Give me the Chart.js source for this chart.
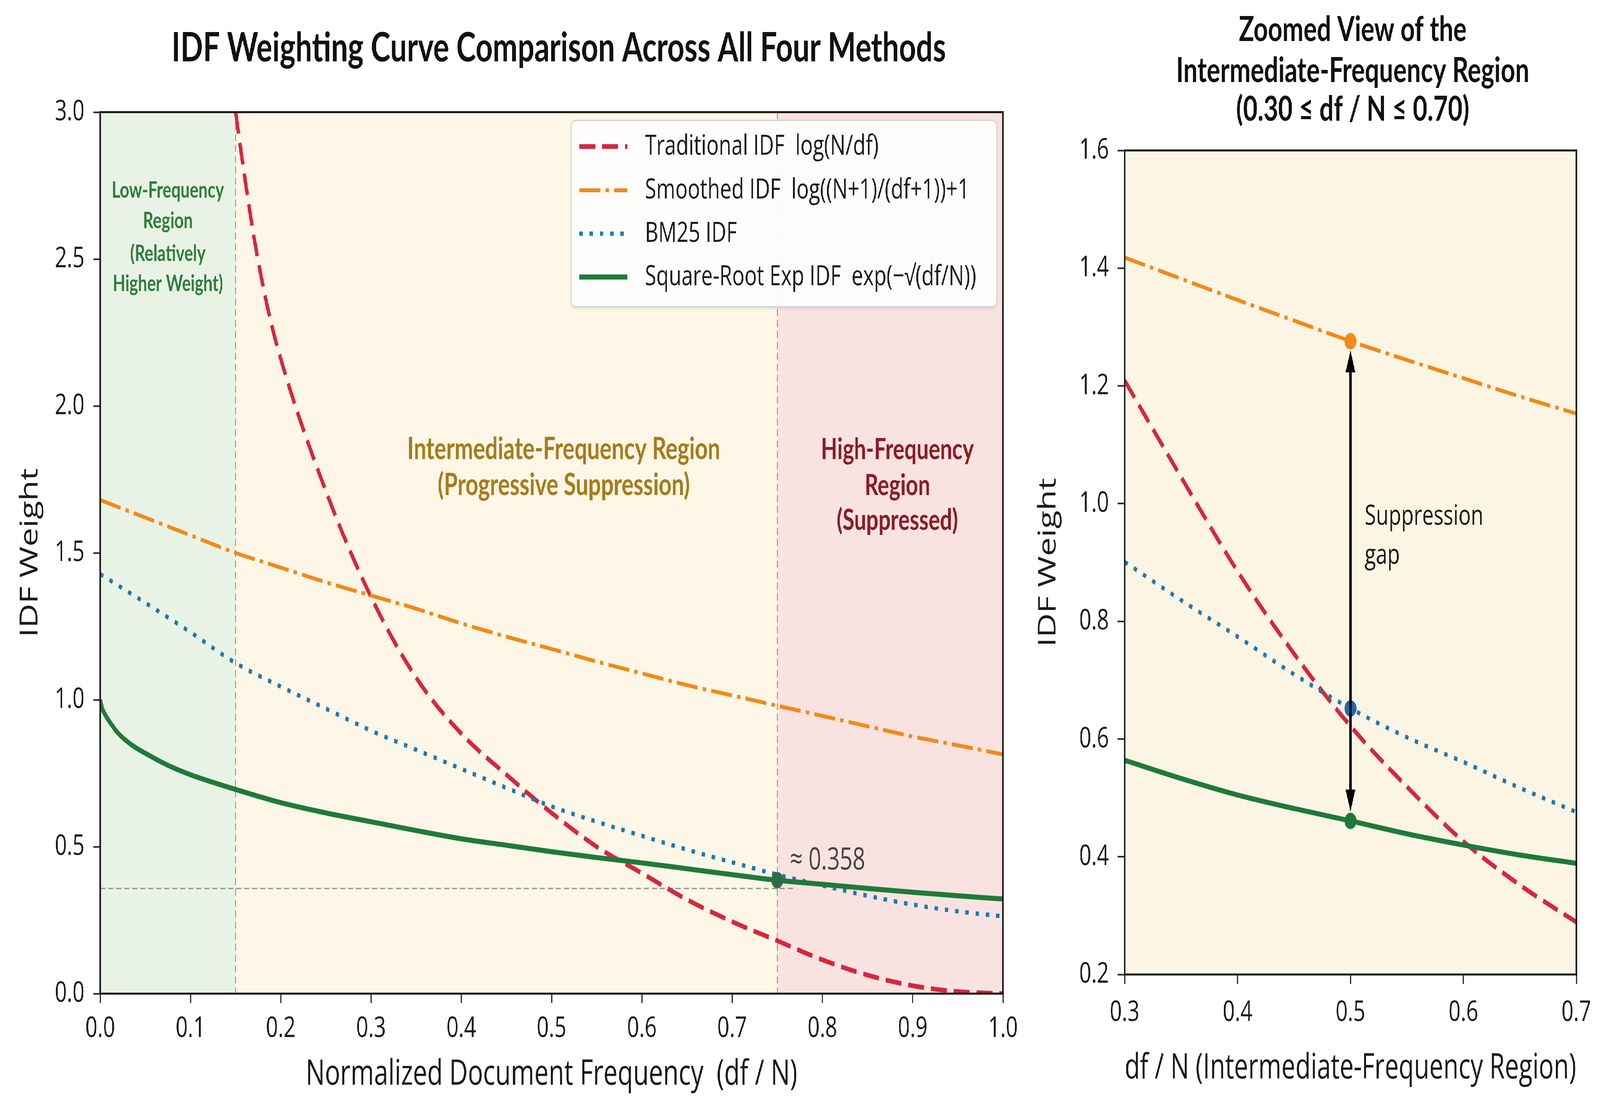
<!DOCTYPE html>
<html>
<head>
<meta charset="utf-8">
<title>IDF Weighting Curve Comparison</title>
<script src="https://cdn.jsdelivr.net/npm/chart.js@4.4.1/dist/chart.umd.min.js"></script>
<style>
  html, body { margin: 0; padding: 0; background: #ffffff; overflow: hidden; }
  /* la figura original esta comprimida en horizontal: se dibuja ancha y se encoge */
  #lienzo { position: absolute; left: 0; top: 0; width: 5604px; height: 2828px; transform: scale(0.75, 1); transform-origin: 0 0; }
  canvas { position: absolute; top: 0; }
</style>
</head>
<body>
<div id="lienzo">
  <canvas id="graficoPrincipal" width="3900" height="2828" style="left:0;width:3900px;height:2828px"></canvas>
  <canvas id="graficoZoom" width="2044" height="2828" style="left:3560px;width:2044px;height:2828px"></canvas>
</div>
<script>
// ----- Datos del grafico principal (df / N de 0 a 1) -----
const xPrincipal = [0, 0.05, 0.1, 0.15, 0.2, 0.25, 0.3, 0.35, 0.4, 0.45, 0.5, 0.55, 0.6, 0.65, 0.7, 0.75, 0.8, 0.85, 0.9, 0.95, 1.0];
const xTradicional = [0.15, 0.16, 0.17, 0.185, 0.2, 0.25, 0.3, 0.35, 0.4, 0.45, 0.5, 0.55, 0.6, 0.65, 0.7, 0.75, 0.8, 0.85, 0.9, 0.95, 1.0];
const xRaiz = [0, 0.002, 0.005, 0.01, 0.02, 0.035, 0.05, 0.075, 0.1, 0.15, 0.2, 0.25, 0.3, 0.35, 0.4, 0.45, 0.5, 0.55, 0.6, 0.65, 0.7, 0.75, 0.8, 0.85, 0.9, 0.95, 1.0];

const tradicionalPrincipal = [3.0, 2.78, 2.58, 2.34, 2.16, 1.71, 1.35, 1.075, 0.885, 0.745, 0.615, 0.50, 0.41, 0.32, 0.245, 0.18, 0.115, 0.063, 0.027, 0.007, 0.0];
const suavizadoPrincipal = [1.68, 1.62, 1.56, 1.50, 1.45, 1.40, 1.355, 1.31, 1.26, 1.215, 1.173, 1.13, 1.09, 1.05, 1.015, 0.98, 0.945, 0.91, 0.875, 0.845, 0.814];
const bm25Principal = [1.428, 1.33, 1.23, 1.125, 1.045, 0.97, 0.895, 0.83, 0.765, 0.70, 0.637, 0.585, 0.537, 0.49, 0.447, 0.405, 0.368, 0.333, 0.303, 0.28, 0.263];
const raizPrincipal = [1.0, 0.972, 0.952, 0.927, 0.886, 0.846, 0.818, 0.777, 0.745, 0.695, 0.65, 0.615, 0.585, 0.555, 0.527, 0.505, 0.483, 0.463, 0.445, 0.425, 0.405, 0.386, 0.372, 0.358, 0.345, 0.333, 0.322];

const limitesRegiones = [0, 0.15, 0.75, 1.0];
const puntoUmbral = 0.75;      // df / N del punto marcado
const valorUmbral = 0.358;     // linea horizontal "≈ 0.358"

const ticksXPrincipal = [0, 0.1, 0.2, 0.3, 0.4, 0.5, 0.6, 0.7, 0.8, 0.9, 1.0];
const ticksYPrincipal = [0, 0.5, 1.0, 1.5, 2.0, 2.5, 3.0];

// ----- Datos de la vista ampliada (0.30 a 0.70) -----
const xZoom = [0.3, 0.35, 0.4, 0.45, 0.5, 0.55, 0.6, 0.65, 0.7];
const tradicionalZoom = [1.209, 1.045, 0.885, 0.745, 0.622, 0.519, 0.426, 0.352, 0.289];
const suavizadoZoom = [1.418, 1.382, 1.346, 1.311, 1.276, 1.244, 1.213, 1.182, 1.153];
const bm25Zoom = [0.901, 0.836, 0.774, 0.71, 0.652, 0.603, 0.561, 0.517, 0.476];
const raizZoom = [0.564, 0.533, 0.505, 0.482, 0.461, 0.439, 0.420, 0.403, 0.389];
const puntoBrecha = 0.5;

const ticksXZoom = [0.3, 0.4, 0.5, 0.6, 0.7];
const ticksYZoom = [0.2, 0.4, 0.6, 0.8, 1.0, 1.2, 1.4, 1.6];

const etiquetasSeries = [
  "Traditional IDF  log(N/df)",
  "Smoothed IDF  log((N+1)/(df+1))+1",
  "BM25 IDF",
  "Square-Root Exp IDF  exp(\u2212\u221A(df/N))"
];

// ----- Estilos -----
const ROJO = "#d7263d";
const NARANJA = "#f28a17";
const AZUL = "#1f77b4";
const VERDE = "#1f7a3a";
const TINTA = "#1a1a1a";
const FUENTE = "'Open Sans', 'DejaVu Sans', sans-serif";
const FUENTE_TITULO = "Lato, 'Open Sans', sans-serif";

Chart.defaults.font.family = FUENTE;
Chart.defaults.color = TINTA;

// Ajusta el lienzo logico (5604 x 2828) a la ventana real
function ajustarLienzo() {
  const ancho = window.innerWidth || 4203;
  const alto = window.innerHeight || 2828;
  document.getElementById("lienzo").style.transform = "scale(" + (ancho / 5604) + "," + (alto / 2828) + ")";
}

document.addEventListener("DOMContentLoaded", function (event) {
  ajustarLienzo();
  Promise.all([
    document.fonts.load("700 80px Lato"),
    document.fonts.load("72px 'Open Sans'")
  ]).catch(function () {}).then(function () {
    dibujarGraficoPrincipal();
    dibujarGraficoZoom();
  });
});
window.addEventListener("resize", ajustarLienzo);

function puntos(xs, ys) {
  return xs.map(function (x, i) { return { x: x, y: ys[i] }; });
}

function serie(indice, xs, ys, orden) {
  const estilos = [
    { color: ROJO, ancho: 12, guion: [56, 24] },
    { color: NARANJA, ancho: 10, guion: [74, 18, 12, 18] },
    { color: AZUL, ancho: 11, guion: [12, 24] },
    { color: VERDE, ancho: 13, guion: [] }
  ];
  const e = estilos[indice];
  return {
    label: etiquetasSeries[indice],
    data: puntos(xs, ys),
    borderColor: e.color,
    borderWidth: e.ancho,
    borderDash: e.guion,
    borderCapStyle: "butt",
    pointRadius: 0,
    fill: false,
    cubicInterpolationMode: "monotone",
    order: orden
  };
}

function marcador(x, y, color) {
  return {
    label: "marcador",
    esMarcador: true,
    data: [{ x: x, y: y }],
    showLine: false,
    pointRadius: 21,
    pointBackgroundColor: color,
    pointBorderColor: color,
    pointBorderWidth: 0,
    order: 0
  };
}

function escalas(ticksX, ticksY, minX, maxX, minY, maxY, tituloX, altoX, anchoY, padTitX, padTitY, padTickX) {
  return {
    x: {
      type: "linear", position: "bottom", min: minX, max: maxX,
      afterBuildTicks: function (eje) { eje.ticks = ticksX.map(function (v) { return { value: v }; }); },
      afterFit: function (eje) { eje.height = altoX; },
      ticks: {
        font: { size: 74 }, color: TINTA, padding: padTickX, maxRotation: 0, autoSkip: false,
        callback: function (v) { return Number(v).toFixed(1); }
      },
      grid: { drawOnChartArea: false, drawTicks: true, tickLength: 24, tickWidth: 4, tickColor: "#222" },
      border: { display: false },
      title: { display: true, text: tituloX, font: { size: 89 }, color: TINTA, padding: { top: 0, bottom: padTitX } }
    },
    y: {
      type: "linear", min: minY, max: maxY,
      afterBuildTicks: function (eje) { eje.ticks = ticksY.map(function (v) { return { value: v }; }); },
      afterFit: function (eje) { eje.width = anchoY; },
      ticks: {
        font: { size: 74 }, color: TINTA, padding: 31, autoSkip: false,
        callback: function (v) { return Number(v).toFixed(1); }
      },
      grid: { drawOnChartArea: false, drawTicks: true, tickLength: 24, tickWidth: 4, tickColor: "#222" },
      border: { display: false },
      title: { display: true, text: "IDF Weight", font: { size: 86 }, color: TINTA, padding: { top: padTitY, bottom: 0 } }
    }
  };
}

function marco(chart) {
  const a = chart.chartArea;
  const ctx = chart.ctx;
  ctx.save();
  ctx.strokeStyle = "#111111";
  ctx.lineWidth = 5;
  ctx.strokeRect(a.left, a.top, a.right - a.left, a.bottom - a.top);
  ctx.restore();
}

function lineaDiscontinua(ctx, x0, y0, x1, y1) {
  ctx.save();
  ctx.strokeStyle = "#8a8a8a";
  ctx.lineWidth = 3;
  ctx.setLineDash([18, 10]);
  ctx.beginPath();
  ctx.moveTo(x0, y0);
  ctx.lineTo(x1, y1);
  ctx.stroke();
  ctx.restore();
}

function dibujarLeyenda(chart) {
  const ctx = chart.ctx;
  const series = chart.data.datasets.filter(function (d) { return !d.esMarcador; });
  const filas = [375, 487, 598, 709];
  ctx.save();
  ctx.shadowColor = "rgba(0,0,0,0.12)";
  ctx.shadowBlur = 10;
  ctx.shadowOffsetY = 4;
  ctx.beginPath();
  ctx.roundRect(2001, 308, 1490, 477, 14);
  ctx.fillStyle = "rgba(255,255,255,0.93)";
  ctx.fill();
  ctx.shadowColor = "transparent";
  ctx.strokeStyle = "#cfcfcf";
  ctx.lineWidth = 3;
  ctx.stroke();
  series.forEach(function (d, i) {
    ctx.strokeStyle = d.borderColor;
    ctx.lineWidth = d.borderWidth;
    ctx.setLineDash(d.borderDash);
    ctx.beginPath();
    ctx.moveTo(2029, filas[i]);
    ctx.lineTo(2197, filas[i]);
    ctx.stroke();
    ctx.setLineDash([]);
    ctx.fillStyle = TINTA;
    ctx.font = "72px " + FUENTE;
    ctx.textAlign = "left";
    ctx.textBaseline = "middle";
    ctx.fillText(d.label, 2259, filas[i]);
  });
  ctx.restore();
}

function textoCentrado(ctx, lineas, x, ys, fuente, color) {
  ctx.save();
  ctx.font = fuente;
  ctx.fillStyle = color;
  ctx.textAlign = "center";
  ctx.textBaseline = "middle";
  lineas.forEach(function (t, i) { ctx.fillText(t, x, ys[i]); });
  ctx.restore();
}

// ----- Grafico principal -----
const pluginPrincipal = {
  id: "decoracionPrincipal",
  beforeDraw: function (chart) {
    const ctx = chart.ctx;
    const a = chart.chartArea;
    const x = chart.scales.x;
    const fondos = ["#e9f3e5", "#fef6e6", "#f9e3e0"];
    ctx.save();
    for (let i = 0; i < limitesRegiones.length - 1; i++) {
      const x0 = x.getPixelForValue(limitesRegiones[i]);
      const x1 = x.getPixelForValue(limitesRegiones[i + 1]);
      ctx.fillStyle = fondos[i];
      ctx.fillRect(x0, a.top, x1 - x0, a.bottom - a.top);
    }
    ctx.restore();
  },
  beforeDatasetsDraw: function (chart) {
    const ctx = chart.ctx;
    const a = chart.chartArea;
    const x = chart.scales.x;
    const y = chart.scales.y;
    // lineas de separacion de regiones
    lineaDiscontinua(ctx, x.getPixelForValue(limitesRegiones[1]), a.top, x.getPixelForValue(limitesRegiones[1]), a.bottom);
    lineaDiscontinua(ctx, x.getPixelForValue(limitesRegiones[2]), a.top, x.getPixelForValue(limitesRegiones[2]), a.bottom);
    lineaDiscontinua(ctx, a.left, y.getPixelForValue(valorUmbral), x.getPixelForValue(0.77), y.getPixelForValue(valorUmbral));

    // textos de cada region
    textoCentrado(ctx, ["Low-Frequency", "Region", "(Relatively", "Higher Weight)"],
      x.getPixelForValue(0.075), [2.733, 2.63, 2.518, 2.415].map(function (v) { return y.getPixelForValue(v); }),
      "700 57px " + FUENTE_TITULO, "#2e7d3e");
    textoCentrado(ctx, ["Intermediate-Frequency Region", "(Progressive Suppression)"],
      x.getPixelForValue(0.5135), [1.853, 1.73].map(function (v) { return y.getPixelForValue(v); }),
      "700 78px " + FUENTE_TITULO, "#a57c1c");
    textoCentrado(ctx, ["High-Frequency", "Region", "(Suppressed)"],
      x.getPixelForValue(0.883), [1.851, 1.729, 1.61].map(function (v) { return y.getPixelForValue(v); }),
      "700 75px " + FUENTE_TITULO, "#8e1b24");
  },
  afterDraw: function (chart) {
    const ctx = chart.ctx;
    const a = chart.chartArea;
    const x = chart.scales.x;
    const y = chart.scales.y;
    marco(chart);
    dibujarLeyenda(chart);
    textoCentrado(ctx, ["IDF Weighting Curve Comparison Across All Four Methods"],
      (a.left + a.right) / 2 + 25, [123], "700 104px " + FUENTE_TITULO, "#111111");
    ctx.save();
    ctx.font = "78px " + FUENTE;
    ctx.fillStyle = "#444444";
    ctx.textAlign = "left";
    ctx.textBaseline = "middle";
    ctx.fillText("\u2248 0.358", x.getPixelForValue(0.764), y.getPixelForValue(0.453));
    ctx.restore();
  }
};

function dibujarGraficoPrincipal() {
  const datos = {
    datasets: [
      serie(0, xTradicional, tradicionalPrincipal, 4),
      serie(1, xPrincipal, suavizadoPrincipal, 3),
      serie(2, xPrincipal, bm25Principal, 2),
      serie(3, xRaiz, raizPrincipal, 1),
      marcador(puntoUmbral, raizPrincipal[xRaiz.indexOf(puntoUmbral)], "#2f6a47")
    ]
  };

  const config = {
    type: "line",
    data: datos,
    plugins: [pluginPrincipal],
    options: {
      responsive: false,
      animation: false,
      devicePixelRatio: 1,
      events: [],
      layout: { padding: { top: 287, left: 0, right: 387, bottom: 0 } },
      plugins: { legend: { display: false }, tooltip: { enabled: false }, title: { display: false } },
      scales: escalas(ticksXPrincipal, ticksYPrincipal, 0, 1, 0, 3,
        "Normalized Document Frequency  (df / N)", 285, 351, 24, 55, 22)
    }
  };

  const ctx = document.getElementById("graficoPrincipal").getContext("2d");
  new Chart(ctx, config);
}

// ----- Vista ampliada -----
const pluginZoom = {
  id: "decoracionZoom",
  beforeDraw: function (chart) {
    const ctx = chart.ctx;
    const a = chart.chartArea;
    ctx.save();
    ctx.fillStyle = "#fdf5e4";
    ctx.fillRect(a.left, a.top, a.right - a.left, a.bottom - a.top);
    ctx.restore();
  },
  afterDatasetsDraw: function (chart) {
    const ctx = chart.ctx;
    const x = chart.scales.x;
    const y = chart.scales.y;
    const i = xZoom.indexOf(puntoBrecha);
    const px = x.getPixelForValue(puntoBrecha);
    const arriba = y.getPixelForValue(suavizadoZoom[i]) + 24;
    const abajo = y.getPixelForValue(raizZoom[i]) - 24;
    const largo = 56;
    const mitad = 17;
    // flecha doble de la brecha de supresion
    ctx.save();
    ctx.strokeStyle = "#000000";
    ctx.fillStyle = "#000000";
    ctx.lineWidth = 9;
    ctx.beginPath();
    ctx.moveTo(px, arriba + largo - 4);
    ctx.lineTo(px, abajo - largo + 4);
    ctx.stroke();
    ctx.beginPath();
    ctx.moveTo(px, arriba);
    ctx.lineTo(px - mitad, arriba + largo);
    ctx.lineTo(px + mitad, arriba + largo);
    ctx.closePath();
    ctx.fill();
    ctx.beginPath();
    ctx.moveTo(px, abajo);
    ctx.lineTo(px - mitad, abajo - largo);
    ctx.lineTo(px + mitad, abajo - largo);
    ctx.closePath();
    ctx.fill();

    ctx.font = "72px " + FUENTE;
    ctx.fillStyle = TINTA;
    ctx.textAlign = "left";
    ctx.textBaseline = "middle";
    ctx.fillText("Suppression", x.getPixelForValue(0.5126), y.getPixelForValue(0.978));
    ctx.fillText("gap", x.getPixelForValue(0.5126), y.getPixelForValue(0.911));
    ctx.restore();
  },
  afterDraw: function (chart) {
    const a = chart.chartArea;
    marco(chart);
    textoCentrado(chart.ctx,
      ["Zoomed View of the", "Intermediate-Frequency Region", "(0.30 \u2264 df / N \u2264 0.70)"],
      (a.left + a.right) / 2 + 8, [77, 182, 281], "700 88px " + FUENTE_TITULO, "#111111");
  }
};

function dibujarGraficoZoom() {
  const i = xZoom.indexOf(puntoBrecha);
  const datos = {
    datasets: [
      serie(0, xZoom, tradicionalZoom, 4),
      serie(1, xZoom, suavizadoZoom, 3),
      serie(2, xZoom, bm25Zoom, 2),
      serie(3, xZoom, raizZoom, 1),
      marcador(puntoBrecha, suavizadoZoom[i], NARANJA),
      marcador(puntoBrecha, bm25Zoom[i], "#1f6aa8"),
      marcador(puntoBrecha, raizZoom[i], VERDE)
    ]
  };

  const config = {
    type: "line",
    data: datos,
    plugins: [pluginZoom],
    options: {
      responsive: false,
      animation: false,
      devicePixelRatio: 1,
      events: [],
      layout: { padding: { top: 385, left: 0, right: 83, bottom: 0 } },
      plugins: { legend: { display: false }, tooltip: { enabled: false }, title: { display: false } },
      scales: escalas(ticksXZoom, ticksYZoom, 0.3, 0.7, 0.2, 1.6,
        "df / N (Intermediate-Frequency Region)", 334, 379, 40, 61, 30)
    }
  };

  const ctx = document.getElementById("graficoZoom").getContext("2d");
  new Chart(ctx, config);
}
</script>
</body>
</html>
